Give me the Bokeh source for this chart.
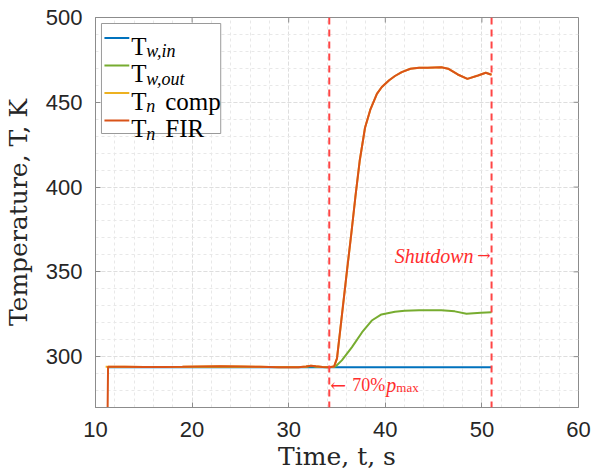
from bokeh.plotting import figure
from bokeh.models import SingleIntervalTicker, Span, Range1d
from bokeh.core.properties import value
from bokeh.embed import file_html
from bokeh.resources import INLINE

# ---------------- data ----------------
t_in = [11.2, 20.0, 30.0, 40.0, 51.0]
T_in = [293.7, 293.7, 293.7, 293.7, 293.7]

t_out = [11.2, 15.0, 20.0, 25.0, 30.0, 31.8, 32.3, 32.8, 34.2, 34.85, 35.5, 36.55,
         37.6, 38.6, 39.6, 41.0, 42.0, 43.5, 45.8, 47.2, 48.4, 49.9, 51.0]
T_out = [293.9, 293.9, 293.9, 293.9, 293.9, 294.1, 294.4, 294.1, 293.8, 294.2, 297.8, 305.6,
         314.4, 321.3, 324.9, 326.5, 327.0, 327.4, 327.3, 326.7, 325.3, 325.9, 326.2]

t_fir = [11.2, 11.3, 13.0, 15.0, 17.0, 19.0, 21.0, 22.9, 25.0, 27.0, 29.0, 31.0,
         31.8, 32.3, 32.8, 33.5, 34.2, 34.7, 35.0, 35.36, 35.6, 36.04, 36.49, 36.9,
         37.35, 37.9, 38.44, 39.13, 39.64, 40.4, 41.0, 41.7, 42.6, 43.5, 44.4, 45.8,
         46.5, 47.5, 48.5, 49.6, 50.4, 51.0]
T_fir = [240.0, 294.0, 294.0, 293.9, 293.9, 294.0, 294.2, 294.3, 294.2, 294.0, 293.8, 293.8,
         294.2, 294.6, 294.3, 293.9, 293.8, 294.2, 299.0, 317.0, 329.0, 351.0, 373.0, 394.0,
         415.5, 435.0, 445.5, 455.0, 459.0, 463.0, 465.5, 467.8, 469.8, 470.3, 470.3, 470.7,
         469.8, 466.4, 463.8, 465.8, 467.4, 466.2]

t_comp = [11.05] + t_fir[1:]
T_comp = [294.0] + T_fir[1:]

event_times = [34.2, 51.0]

series_names = ["w,in", "w,out", "n", "n"]
series_suffix = ["", "", "comp", "FIR"]
series_colors = ["#0072BD", "#77AC30", "#EDB120", "#D95319"]

x_tick_values = [10, 20, 30, 40, 50, 60]
y_tick_values = [300, 350, 400, 450, 500]

# ---------------- figure ----------------
X0, X1 = 10, 60
Y0, Y1 = 270, 500
W, H = 593, 475
ML, MR, MT, MB = 92, 15, 17, 68
FW = W - ML - MR
FH = H - MT - MB


def dx(px):
    return X0 + (px - ML) * (X1 - X0) / FW


def dy(py):
    return Y1 - (py - MT) * (Y1 - Y0) / FH


p = figure(width=W, height=H, output_backend="svg", toolbar_location=None,
           x_range=Range1d(X0, X1), y_range=Range1d(Y0, Y1),
           min_border_left=ML, min_border_right=MR, min_border_top=MT,
           min_border_bottom=MB, background_fill_color="white",
           border_fill_color="white")

p.outline_line_color = "#8c8c8c"
p.outline_line_width = 1

p.xaxis.ticker = SingleIntervalTicker(interval=10, num_minor_ticks=5)
p.yaxis.ticker = SingleIntervalTicker(interval=50, num_minor_ticks=5)

for ax in (p.xaxis[0], p.yaxis[0]):
    ax.axis_line_color = "#8c8c8c"
    ax.major_tick_line_color = "#8c8c8c"
    ax.major_tick_in = 5
    ax.major_tick_out = 0
    ax.minor_tick_line_color = None
    ax.major_label_text_font = "Liberation Sans"
    ax.major_label_text_font_size = "22px"
    ax.major_label_text_color = "#262626"
    ax.axis_label_text_font = "DejaVu Serif"
    ax.axis_label_text_font_size = "25px"
    ax.axis_label_text_font_style = "normal"
    ax.axis_label_text_color = "#262626"

p.xaxis.axis_label = "Time, t, s"
p.yaxis.axis_label = "Temperature, T, K"
p.xaxis.major_label_standoff = 10
p.xaxis.axis_label_standoff = 2
p.yaxis.major_label_standoff = 9
p.yaxis.axis_label_standoff = 10

# grids
for g in (p.xgrid[0], p.ygrid[0]):
    g.grid_line_color = "#dedede"
    g.grid_line_dash = "4 2"
    g.grid_line_width = 1
    g.minor_grid_line_color = "#e8e8e8"
    g.minor_grid_line_dash = "3 3"
    g.minor_grid_line_width = 1

# top / right box ticks
p.segment(x0=x_tick_values, x1=x_tick_values, y0=[Y1] * len(x_tick_values),
          y1=[dy(MT + 5)] * len(x_tick_values), line_color="#8c8c8c", line_width=1)
p.segment(x0=[X1] * len(y_tick_values), x1=[dx(W - MR - 5)] * len(y_tick_values),
          y0=y_tick_values, y1=y_tick_values, line_color="#8c8c8c", line_width=1)

# ---------------- series ----------------
lw = 2
p.line(t_in, T_in, line_color=series_colors[0], line_width=lw)
p.line(t_out, T_out, line_color=series_colors[1], line_width=lw)
p.line(t_comp, T_comp, line_color=series_colors[2], line_width=lw)
p.line(t_fir, T_fir, line_color=series_colors[3], line_width=lw)

for tx in event_times:
    p.add_layout(Span(location=tx, dimension="height", line_color="#ff4545",
                      line_width=2, line_dash="7 5"))

# ---------------- legend (manual) ----------------
p.quad(left=[dx(98)], right=[dx(218)], top=[dy(23)], bottom=[dy(133)],
       fill_color="white", line_color="#9a9a9a", line_width=1)
serif = value("Liberation Serif")
arrow_font = value("DejaVu Serif")
for i, (nm, suf, col) in enumerate(zip(series_names, series_suffix, series_colors)):
    ly = 37.5 + 27.5 * i
    by = ly + 8
    p.segment(x0=[dx(101)], x1=[dx(126)], y0=[dy(ly)], y1=[dy(ly)],
              line_color=col, line_width=lw)
    p.text(x=[dx(128)], y=[dy(by)], text=["T"], text_font=serif,
           text_font_size="25px", text_baseline="alphabetic", text_align="left",
           text_color="black")
    p.text(x=[dx(128)], y=[dy(by + 5)], text=[nm], text_font=serif,
           text_font_size="18px", text_font_style="italic", x_offset=15,
           text_baseline="alphabetic", text_align="left", text_color="black")
    if suf:
        p.text(x=[dx(128)], y=[dy(by)], text=[suf], text_font=serif,
               text_font_size="25px", x_offset=34,
               text_baseline="alphabetic", text_align="left", text_color="black")

# ---------------- annotations ----------------
red = "#ff2d2d"
ay = dy(384)
p.text(x=[event_times[0]], y=[ay], text=["\u2190"], text_font=arrow_font,
       text_font_size="19px", x_offset=1, text_baseline="alphabetic",
       text_align="left", text_color=red)
p.text(x=[event_times[0]], y=[ay], text=["70%"], text_font=serif,
       text_font_size="18px", x_offset=23, text_baseline="alphabetic",
       text_align="left", text_color=red)
p.text(x=[event_times[0]], y=[ay], text=["p"], text_font=serif,
       text_font_size="20px", text_font_style="italic", x_offset=57,
       text_baseline="alphabetic", text_align="left", text_color=red)
p.text(x=[event_times[0]], y=[dy(387)], text=["max"], text_font=serif,
       text_font_size="13px", x_offset=67, text_baseline="alphabetic",
       text_align="left", text_color=red)
p.text(x=[event_times[1]], y=[dy(255)], text=["Shutdown"], text_font=serif,
       text_font_size="20px", text_font_style="italic", x_offset=-18,
       text_baseline="alphabetic", text_align="right", text_color=red)
p.text(x=[event_times[1]], y=[dy(255)], text=["\u2192"], text_font=arrow_font,
       text_font_size="16px", x_offset=-1,
       text_baseline="alphabetic", text_align="right", text_color=red)

open("out.html", "w").write(file_html(p, INLINE))
